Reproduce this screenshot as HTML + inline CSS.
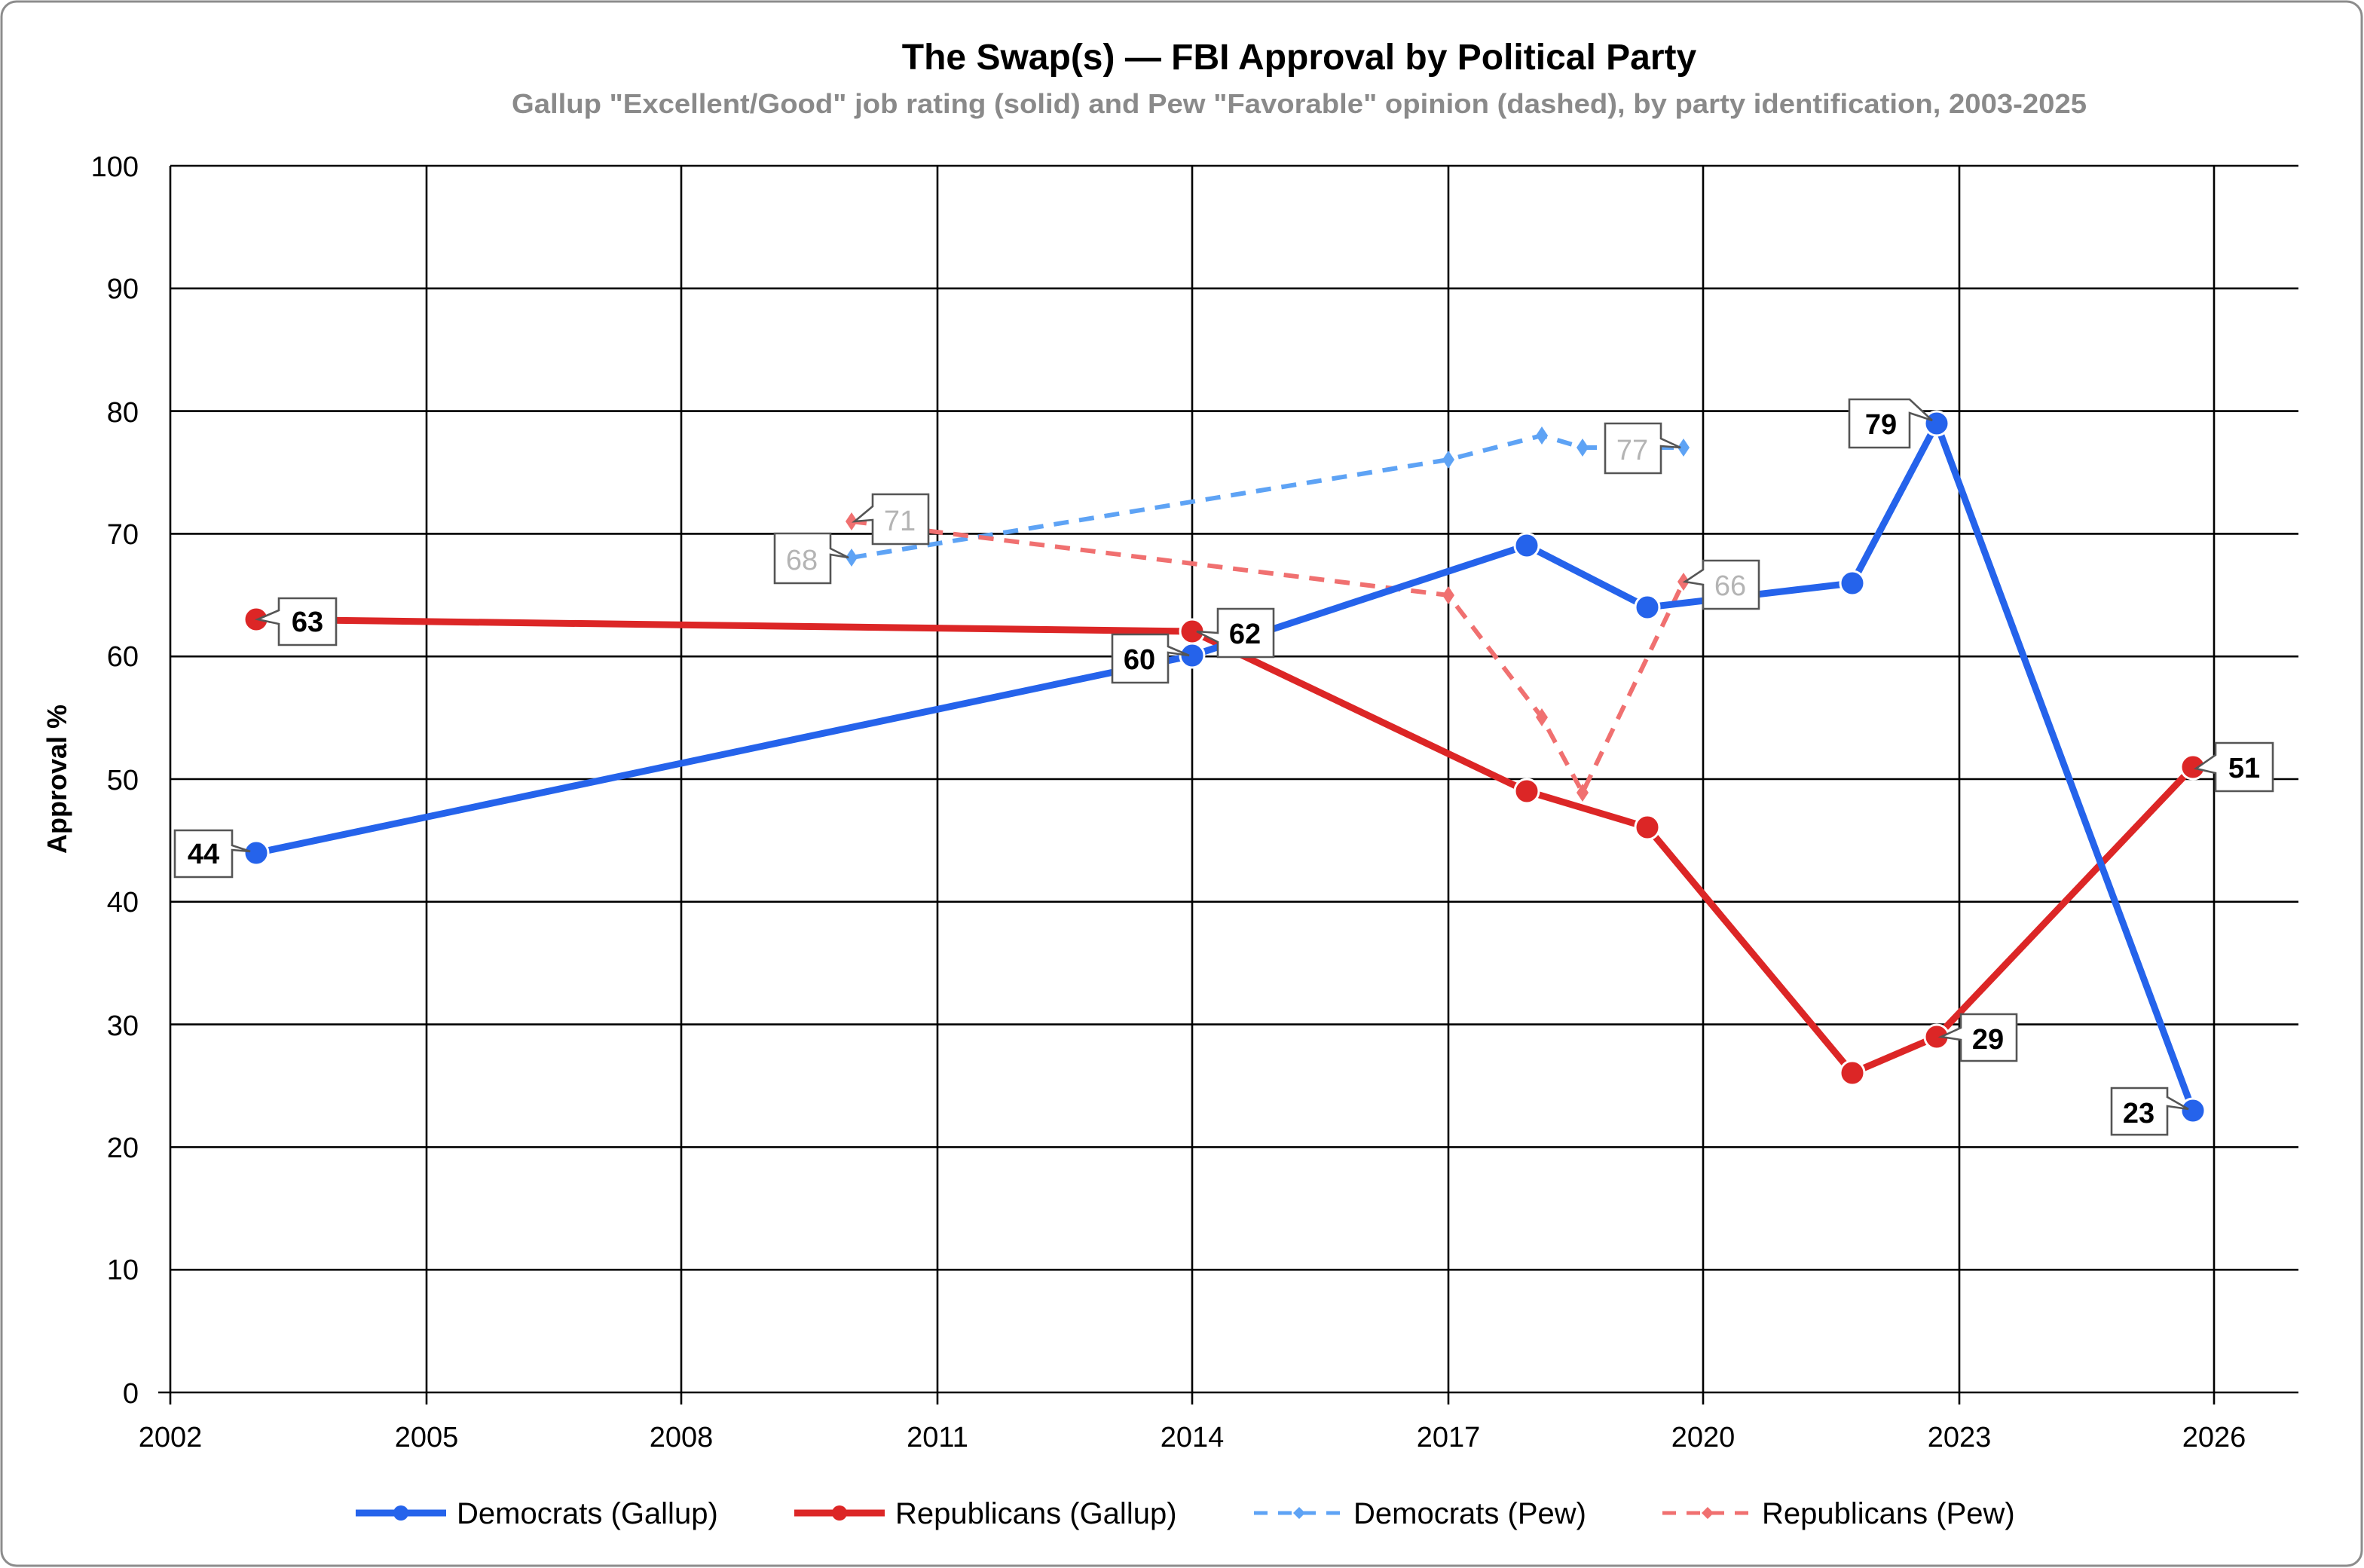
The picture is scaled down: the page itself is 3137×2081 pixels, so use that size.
<!DOCTYPE html>
<html><head><meta charset="utf-8"><style>
html,body{margin:0;padding:0;background:#fff}
svg{display:block}
text{font-family:"Liberation Sans Narrow","Liberation Sans",sans-serif}
</style></head><body>
<svg width="3137" height="2081" viewBox="0 0 1568.5 1040.5" xmlns="http://www.w3.org/2000/svg">
<rect x="1" y="1" width="1566" height="1038" rx="10" fill="#fff" stroke="#8c8c8c" stroke-width="1.5"/>
<text x="862" y="46" text-anchor="middle" font-size="24" font-weight="bold" fill="#000">The Swap(s) — FBI Approval by Political Party</text>
<text x="862" y="75" text-anchor="middle" font-size="18" font-weight="bold" fill="#8a8a8a" textLength="1045" lengthAdjust="spacingAndGlyphs">Gallup "Excellent/Good" job rating (solid) and Pew "Favorable" opinion (dashed), by party identification, 2003-2025</text>
<g stroke="#000" stroke-width="1.3">
<line x1="113" y1="110" x2="1525" y2="110"/><line x1="113" y1="191.4" x2="1525" y2="191.4"/><line x1="113" y1="272.8" x2="1525" y2="272.8"/><line x1="113" y1="354.2" x2="1525" y2="354.2"/><line x1="113" y1="435.6" x2="1525" y2="435.6"/><line x1="113" y1="517" x2="1525" y2="517"/><line x1="113" y1="598.4" x2="1525" y2="598.4"/><line x1="113" y1="679.8" x2="1525" y2="679.8"/><line x1="113" y1="761.2" x2="1525" y2="761.2"/><line x1="113" y1="842.6" x2="1525" y2="842.6"/><line x1="105" y1="924" x2="1525" y2="924"/>
<line x1="113" y1="110" x2="113" y2="932"/><line x1="283" y1="110" x2="283" y2="932"/><line x1="452" y1="110" x2="452" y2="932"/><line x1="622" y1="110" x2="622" y2="932"/><line x1="791" y1="110" x2="791" y2="932"/><line x1="961" y1="110" x2="961" y2="932"/><line x1="1130" y1="110" x2="1130" y2="932"/><line x1="1300" y1="110" x2="1300" y2="932"/><line x1="1469" y1="110" x2="1469" y2="932"/>
</g>
<g font-size="19" fill="#000" text-anchor="end">
<text x="92" y="117">100</text><text x="92" y="198">90</text><text x="92" y="280">80</text><text x="92" y="361">70</text><text x="92" y="442">60</text><text x="92" y="524">50</text><text x="92" y="605">40</text><text x="92" y="687">30</text><text x="92" y="768">20</text><text x="92" y="849">10</text><text x="92" y="931">0</text>
</g>
<g font-size="19" fill="#000" text-anchor="middle">
<text x="113" y="960">2002</text><text x="283" y="960">2005</text><text x="452" y="960">2008</text><text x="622" y="960">2011</text><text x="791" y="960">2014</text><text x="961" y="960">2017</text><text x="1130" y="960">2020</text><text x="1300" y="960">2023</text><text x="1469" y="960">2026</text>
</g>
<text transform="translate(44,517) rotate(-90)" text-anchor="middle" font-size="18" font-weight="bold">Approval %</text>
<polyline points="565,370 961,305 1023,289 1050,297 1117,297" fill="none" stroke="#5ea3f5" stroke-width="3" stroke-dasharray="10,7"/>
<polyline points="565,346 961,395 1023,476 1050,526 1117,386" fill="none" stroke="#f07070" stroke-width="3" stroke-dasharray="10,7"/>
<g fill="#5ea3f5"><path d="M565,364l4,6-4,6-4,-6z"/><path d="M961,299l4,6-4,6-4,-6z"/><path d="M1023,283l4,6-4,6-4,-6z"/><path d="M1050,291l4,6-4,6-4,-6z"/><path d="M1117,291l4,6-4,6-4,-6z"/></g>
<g fill="#f07070"><path d="M565,340l4,6-4,6-4,-6z"/><path d="M961,389l4,6-4,6-4,-6z"/><path d="M1023,470l4,6-4,6-4,-6z"/><path d="M1050,520l4,6-4,6-4,-6z"/><path d="M1117,380l4,6-4,6-4,-6z"/></g>
<polyline points="170,411 791,419 1013,525 1093,549 1229,712 1285,688 1455,509" fill="none" stroke="#dc2626" stroke-width="4.5"/>
<polyline points="170,566 791,435 1013,362 1093,403 1229,387 1285,281 1455,737" fill="none" stroke="#2563eb" stroke-width="4.5"/>
<g fill="#dc2626" stroke="#fff" stroke-width="1.5"><circle cx="170" cy="411" r="8"/><circle cx="791" cy="419" r="8"/><circle cx="1013" cy="525" r="8"/><circle cx="1093" cy="549" r="8"/><circle cx="1229" cy="712" r="8"/><circle cx="1285" cy="688" r="8"/><circle cx="1455" cy="509" r="8"/></g>
<g fill="#2563eb" stroke="#fff" stroke-width="1.5"><circle cx="170" cy="566" r="8"/><circle cx="791" cy="435" r="8"/><circle cx="1013" cy="362" r="8"/><circle cx="1093" cy="403" r="8"/><circle cx="1229" cy="387" r="8"/><circle cx="1285" cy="281" r="8"/><circle cx="1455" cy="737" r="8"/></g>
<g stroke="#555" stroke-width="1.3" fill="#fff">
<path d="M185,397h38v31h-38v-14l-14,-3l14,-6z"/>
<path d="M116,551h38v10l12,4l-12,-1v18h-38z"/>
<path d="M738,421h37v8l14,6l-14,-2v20h-37z"/>
<path d="M808,404h37v32h-37v-10l-14,-7l14,1z"/>
<path d="M1227,265h40l15,14l-15,-5v23h-40z"/>
<path d="M1401,722h37v6l14,8l-14,-2v19h-37z"/>
<path d="M1470,493h38v32h-38v-12l-13,-3l13,-9z"/>
<path d="M1301,673h37v31h-37v-14l-13,-2l13,-6z"/>
<path d="M514,354h37v10l12,6l-12,-2v19h-37z"/>
<path d="M579,328h37v33h-37v-16l-12,1l12,-10z"/>
<path d="M1065,281h37v10l13,6l-13,-1v18h-37z"/>
<path d="M1130,372h37v32h-37v-16l-12,-2l12,-8z"/>
</g>
<g font-size="19" font-weight="bold" fill="#000" text-anchor="middle">
<text x="204" y="419">63</text><text x="135" y="573">44</text><text x="756" y="444">60</text><text x="826" y="427">62</text><text x="1248" y="288">79</text><text x="1419" y="745">23</text><text x="1489" y="516">51</text><text x="1319" y="696">29</text>
</g>
<g font-size="19" fill="#b4b4b4" text-anchor="middle">
<text x="532" y="378">68</text><text x="597" y="352">71</text><text x="1083" y="305">77</text><text x="1148" y="395">66</text>
</g>
<line x1="236" y1="1004" x2="296" y2="1004" stroke="#2563eb" stroke-width="4.5"/><circle cx="266" cy="1004" r="5" fill="#2563eb"/>
<text x="303" y="1011" font-size="20">Democrats (Gallup)</text>
<line x1="527" y1="1004" x2="587" y2="1004" stroke="#dc2626" stroke-width="4.5"/><circle cx="557" cy="1004" r="5" fill="#dc2626"/>
<text x="594" y="1011" font-size="20">Republicans (Gallup)</text>
<line x1="832" y1="1004" x2="892" y2="1004" stroke="#5ea3f5" stroke-width="2.5" stroke-dasharray="9,7"/><path d="M862,1000l4,4-4,4-4,-4z" fill="#5ea3f5"/>
<text x="898" y="1011" font-size="20">Democrats (Pew)</text>
<line x1="1103" y1="1004" x2="1163" y2="1004" stroke="#f07070" stroke-width="2.5" stroke-dasharray="9,7"/><path d="M1133,1000l4,4-4,4-4,-4z" fill="#f07070"/>
<text x="1169" y="1011" font-size="20">Republicans (Pew)</text>
</svg>
</body></html>
